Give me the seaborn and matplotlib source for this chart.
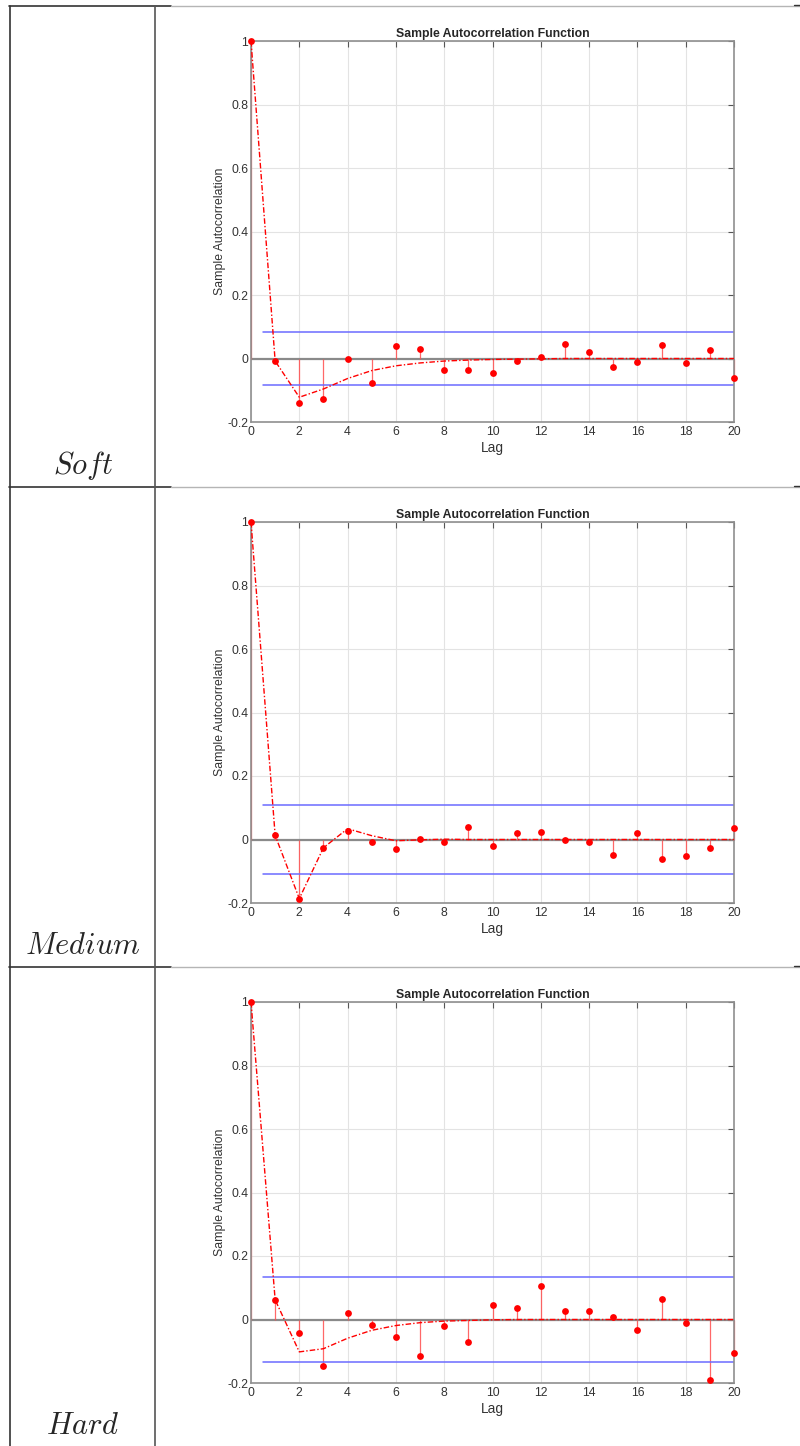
import matplotlib
matplotlib.use('Agg')

import matplotlib.pyplot as plt
import seaborn as sns
import numpy as np
import pandas as pd
from matplotlib.lines import Line2D

# lags shown on every panel
lags = list(range(21))

# sample autocorrelation
soft_acf = [1.0, -0.008, -0.139, -0.128, -0.001, -0.078, 0.040, 0.030, -0.035, -0.036, -0.047,
            -0.007, 0.005, 0.046, 0.020, -0.028, -0.010, 0.044, -0.013, 0.028, -0.061]
medium_acf = [1.0, 0.013, -0.186, -0.028, 0.027, -0.009, -0.031, 0.001, -0.008, 0.038, -0.021,
              0.020, 0.025, -0.001, -0.007, -0.049, 0.022, -0.060, -0.051, -0.026, 0.036]
hard_acf = [1.0, 0.062, -0.044, -0.147, 0.021, -0.017, -0.054, -0.115, -0.022, -0.072, 0.047,
            0.035, 0.104, 0.028, 0.027, 0.008, -0.034, 0.065, -0.012, -0.189, -0.104]

# fitted model acf (dash-dot curve)
soft_model = [1.0, -0.008, -0.122, -0.096, -0.063, -0.038, -0.023, -0.014, -0.008, -0.005, -0.003,
              -0.002, -0.001, 0, 0, 0, 0, 0, 0, 0, 0]
medium_model = [1.0, 0.013, -0.186, -0.026, 0.034, 0.012, -0.004, -0.001, 0.001, 0, 0,
                0, 0, 0, 0, 0, 0, 0, 0, 0, 0]
hard_model = [1.0, 0.062, -0.102, -0.092, -0.059, -0.034, -0.019, -0.010, -0.005, -0.003, -0.001,
              0, 0, 0, 0, 0, 0, 0, 0, 0, 0]

# confidence bounds
bounds = [0.082, 0.109, 0.133]
row_names = ['Soft', 'Medium', 'Hard']

sns.set_style('white')
plt.rcParams['font.family'] = ['Liberation Sans', 'DejaVu Sans']
plt.rcParams['mathtext.fontset'] = 'cm'

W, H = 800, 1446
fig = plt.figure(figsize=(W / 100, H / 100), dpi=100, facecolor='white')

panel_tops = [41, 522, 1002]
ax_left, ax_right, ax_h = 251, 734, 381

all_acf = [soft_acf, medium_acf, hard_acf]
all_model = [soft_model, medium_model, hard_model]

for i in range(3):
    top = panel_tops[i]
    ax = fig.add_axes([ax_left / W, 1 - (top + ax_h) / H, (ax_right - ax_left) / W, ax_h / H])
    df = pd.DataFrame({'Lag': lags, 'acf': all_acf[i], 'model': all_model[i]})

    ax.grid(True, color='#e3e3e3', linewidth=0.8)
    ax.set_axisbelow(True)

    # zero line
    ax.axhline(0, color='#8a8a8a', linewidth=1.6, zorder=1)

    # stems
    ax.vlines(df['Lag'], 0, df['acf'], color='#ff4d4d', linewidth=0.9, alpha=0.85, zorder=2,
              clip_on=False)

    # confidence bounds
    b = bounds[i]
    ax.plot([0.5, 20], [b, b], color='#6b6bff', linewidth=1.1, zorder=2)
    ax.plot([0.5, 20], [-b, -b], color='#6b6bff', linewidth=1.1, zorder=2)

    # model curve
    sns.lineplot(data=df, x='Lag', y='model', ax=ax, color='red', linewidth=1.0,
                 linestyle=(0, (4, 1.5, 1, 1.5)), zorder=3)

    # markers
    sns.scatterplot(data=df, x='Lag', y='acf', ax=ax, color='red', s=24, edgecolor='red',
                    linewidth=0, zorder=4, clip_on=False)

    ax.set_xlim(0, 20)
    ax.set_ylim(-0.2, 1)
    ax.set_xticks(range(0, 21, 2))
    ax.set_yticks([-0.2, 0, 0.2, 0.4, 0.6, 0.8, 1.0])
    ax.set_yticklabels(['-0.2', '0', '0.2', '0.4', '0.6', '0.8', '1'])
    ax.tick_params(direction='in', length=4, width=0.8, color='#555555', labelsize=8.8,
                   labelcolor='#333333', top=True, right=True)
    ax.tick_params(axis='x', pad=3)
    ax.tick_params(axis='y', pad=2)
    for sp in ax.spines.values():
        sp.set_color('#8f8f8f')
        sp.set_linewidth(1.2)
        sp.set_visible(True)

    ax.set_title('Sample Autocorrelation Function', fontsize=8.8, fontweight='bold', pad=3)
    ax.set_xlabel('Lag', fontsize=9.8, labelpad=2, color='#333333')
    ax.set_ylabel('Sample Autocorrelation', fontsize=8.8, labelpad=1, color='#333333')

    # row label in the table cell
    fig.text(83 / W, 1 - (panel_tops[i] + 424) / H, r'$' + row_names[i] + '$', fontsize=22,
             ha='center', va='center')

# table lines
def hline(y, x0, x1, color, lw=1.2):
    fig.add_artist(Line2D([x0 / W, x1 / W], [1 - y / H, 1 - y / H], color=color, linewidth=lw))

def vline(x, y0, y1, color, lw=1.2):
    fig.add_artist(Line2D([x / W, x / W], [1 - y0 / H, 1 - y1 / H], color=color, linewidth=lw))

for y in [6, 487, 967]:
    hline(y, 9, 171, '#333333')
    hline(y, 171, 800, '#b5b5b5', lw=1.0)
    hline(y - 1, 794, 800, '#333333', lw=1.0)

vline(9.5, 6, H, '#333333')
vline(155, 6, H, '#555555')

fig.savefig('out.png', dpi=100, facecolor='white')
plt.close(fig)
